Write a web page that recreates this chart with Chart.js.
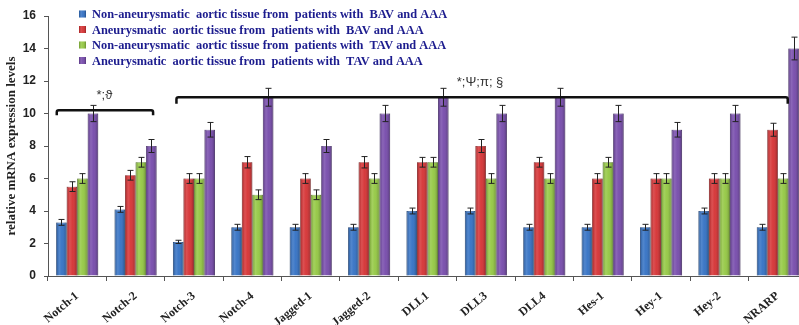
<!DOCTYPE html>
<html>
<head>
<meta charset="utf-8">
<script src="https://cdn.jsdelivr.net/npm/chart.js@4.4.1/dist/chart.umd.min.js"></script>
<style>
  html, body { margin: 0; padding: 0; background: #fff; }
  #wrap { width: 799px; height: 325px; overflow: hidden; position: relative; }
  canvas { display: block; }
</style>
</head>
<body>
<div id="wrap"><canvas id="chart" width="808" height="325"></canvas></div>
<script>
// categories (genes)
const genes = ['Notch-1', 'Notch-2', 'Notch-3', 'Notch-4', 'Jagged-1', 'Jagged-2', 'DLL1', 'DLL3', 'DLL4', 'Hes-1', 'Hey-1', 'Hey-2', 'NRARP'];

const seriesLabels = [
    'Non-aneurysmatic  aortic tissue from  patients with  BAV and AAA',
    'Aneurysmatic  aortic tissue from  patients with  BAV and AAA',
    'Non-aneurysmatic  aortic tissue from  patients with  TAV and AAA',
    'Aneurysmatic  aortic tissue from  patients with  TAV and AAA'
];

// series values
const bavNonAneurysmatic = [3.3, 4.1, 2.1, 3.0, 3.0, 3.0, 4.0, 4.0, 3.0, 3.0, 3.0, 4.0, 3.0];
const bavAneurysmatic    = [5.5, 6.2, 6.0, 7.0, 6.0, 7.0, 7.0, 8.0, 7.0, 6.0, 6.0, 6.0, 9.0];
const tavNonAneurysmatic = [6.0, 7.0, 6.0, 5.0, 5.0, 6.0, 7.0, 6.0, 6.0, 7.0, 6.0, 6.0, 6.0];
const tavAneurysmatic    = [10.0, 8.0, 9.0, 11.0, 8.0, 10.0, 11.0, 10.0, 11.0, 10.0, 9.0, 10.0, 14.0];

// error bar half-lengths
const bavNonAneurysmaticErr = [0.18, 0.18, 0.1, 0.18, 0.18, 0.18, 0.18, 0.18, 0.18, 0.18, 0.18, 0.18, 0.18];
const bavAneurysmaticErr    = [0.3, 0.3, 0.3, 0.35, 0.3, 0.35, 0.3, 0.4, 0.3, 0.3, 0.3, 0.3, 0.4];
const tavNonAneurysmaticErr = [0.3, 0.3, 0.3, 0.3, 0.3, 0.3, 0.3, 0.3, 0.3, 0.3, 0.3, 0.3, 0.3];
const tavAneurysmaticErr    = [0.5, 0.4, 0.45, 0.55, 0.4, 0.5, 0.55, 0.5, 0.55, 0.5, 0.45, 0.5, 0.7];

const yTicks = [0, 2, 4, 6, 8, 10, 12, 14, 16];

const colors  = ['#2c6cc2', '#d42a2c', '#90c63c', '#7144a8'];
const borders = ['#1d4a8c', '#9a1a1c', '#5f8a22', '#4a2a78'];

const errors = [bavNonAneurysmaticErr, bavAneurysmaticErr, tavNonAneurysmaticErr, tavAneurysmaticErr];

function shade(ctx, x0, x1) {
    const g = ctx.createLinearGradient(x0, 0, x1, 0);
    g.addColorStop(0, 'rgba(0,0,0,0.22)');
    g.addColorStop(0.3, 'rgba(255,255,255,0.18)');
    g.addColorStop(0.55, 'rgba(255,255,255,0.08)');
    g.addColorStop(1, 'rgba(0,0,0,0.28)');
    return g;
}

// gloss on bars + error bars
const barExtras = {
    id: 'barExtras',
    afterDatasetsDraw(chart) {
        const ctx = chart.ctx;
        const y = chart.scales.y;
        ctx.save();
        chart.data.datasets.forEach((ds, di) => {
            const meta = chart.getDatasetMeta(di);
            meta.data.forEach((el, i) => {
                const half = el.width / 2;
                ctx.fillStyle = shade(ctx, el.x - half, el.x + half);
                ctx.fillRect(el.x - half, el.y, el.width, el.base - el.y);
            });
        });
        ctx.strokeStyle = '#222';
        ctx.lineWidth = 1;
        chart.data.datasets.forEach((ds, di) => {
            const meta = chart.getDatasetMeta(di);
            meta.data.forEach((el, i) => {
                const v = ds.data[i];
                const e = errors[di][i];
                const top = y.getPixelForValue(v + e);
                const bot = y.getPixelForValue(v - e);
                const cx = Math.round(el.x) + 0.5;
                ctx.beginPath();
                ctx.moveTo(cx, top); ctx.lineTo(cx, bot);
                ctx.moveTo(cx - 3, top); ctx.lineTo(cx + 3, top);
                ctx.moveTo(cx - 3, bot); ctx.lineTo(cx + 3, bot);
                ctx.stroke();
            });
        });
        ctx.restore();
    }
};

// significance brackets
const brackets = {
    id: 'brackets',
    afterDatasetsDraw(chart) {
        const ctx = chart.ctx;
        const x = chart.scales.x, y = chart.scales.y;
        const cw = x.getPixelForValue(1) - x.getPixelForValue(0);
        function bracket(i0, f0, i1, f1, lineVal, endVal, label, labelX, labelVal) {
            const xa = x.getPixelForValue(i0) + f0 * cw;
            const xb = x.getPixelForValue(i1) + f1 * cw;
            const yl = y.getPixelForValue(lineVal);
            const ye = y.getPixelForValue(endVal);
            ctx.beginPath();
            ctx.moveTo(xa, ye);
            ctx.lineTo(xa, yl + 2);
            ctx.quadraticCurveTo(xa, yl, xa + 2, yl);
            ctx.lineTo(xb - 2, yl);
            ctx.quadraticCurveTo(xb, yl, xb, yl + 2);
            ctx.lineTo(xb, ye);
            ctx.stroke();
            ctx.fillText(label, labelX, y.getPixelForValue(labelVal));
        }
        ctx.save();
        ctx.strokeStyle = '#111';
        ctx.lineWidth = 2.5;
        ctx.fillStyle = '#333';
        ctx.font = '13px "Liberation Sans", Arial, sans-serif';
        ctx.textAlign = 'center';
        ctx.textBaseline = 'middle';
        const mid1 = (x.getPixelForValue(0) + x.getPixelForValue(1)) / 2 - 2;
        bracket(0, -0.35, 1, 0.3, 10.2, 9.9, '*;\u03D1', mid1, 11.1);
        const mid2 = x.getPixelForValue(7) - 0.1 * cw;
        bracket(2, -0.3, 12, 0.17, 11.0, 10.6, '*;\u03A8;\u03C0; \u00A7', mid2, 11.9);
        ctx.restore();
    }
};

// legend drawn inside plot area
const insideLegend = {
    id: 'insideLegend',
    afterDraw(chart) {
        const ctx = chart.ctx;
        const a = chart.chartArea;
        ctx.save();
        ctx.font = 'bold 12.4px "Liberation Serif", "Times New Roman", serif';
        ctx.textBaseline = 'middle';
        chart.data.datasets.forEach((ds, i) => {
            const yy = a.top - 2 + i * 15.5;
            const sx = a.left + 31;
            ctx.fillStyle = colors[i];
            ctx.fillRect(sx, yy - 3.5, 7, 7);
            ctx.fillStyle = shade(ctx, sx, sx + 7);
            ctx.fillRect(sx, yy - 3.5, 7, 7);
            ctx.fillStyle = '#1c1c8e';
            ctx.fillText(ds.label, a.left + 44, yy + 1);
        });
        ctx.restore();
    }
};

const datasets = [bavNonAneurysmatic, bavAneurysmatic, tavNonAneurysmatic, tavAneurysmatic].map((d, i) => ({
    label: seriesLabels[i],
    data: d,
    backgroundColor: colors[i],
    borderColor: borders[i],
    borderWidth: 0.8,
    barPercentage: 1.0,
    categoryPercentage: 0.72
}));

new Chart(document.getElementById('chart').getContext('2d'), {
    type: 'bar',
    data: { labels: genes, datasets: datasets },
    options: {
        responsive: false,
        animation: false,
        devicePixelRatio: 1,
        layout: { padding: { top: 16, right: 1, left: 0, bottom: 0 } },
        plugins: {
            legend: { display: false },
            tooltip: { enabled: false }
        },
        scales: {
            x: {
                grid: { display: true, drawOnChartArea: false, offset: true, tickLength: 5, color: '#555' },
                border: { color: '#555', width: 1 },
                ticks: {
                    color: '#222',
                    minRotation: 40,
                    maxRotation: 40,
                    padding: 8,
                    font: { family: '"Liberation Serif", "Times New Roman", serif', weight: 'bold', size: 12 }
                },
                afterFit(scale) { scale.height = 49; }
            },
            y: {
                min: 0,
                max: 16,
                afterBuildTicks(scale) { scale.ticks = yTicks.map(v => ({ value: v })); },
                grid: { display: true, drawOnChartArea: false, tickLength: 4, color: '#555' },
                border: { color: '#555', width: 1 },
                ticks: {
                    color: '#222',
                    padding: 8,
                    font: { family: '"Liberation Sans", Arial, sans-serif', weight: 'bold', size: 12 }
                },
                title: {
                    display: true,
                    text: 'relative mRNA expression levels',
                    color: '#222',
                    padding: { top: 4, bottom: 0 },
                    font: { family: '"Liberation Serif", "Times New Roman", serif', weight: 'bold', size: 13 }
                },
                afterFit(scale) { scale.width = 48; }
            }
        }
    },
    plugins: [barExtras, brackets, insideLegend]
});
</script>
</body>
</html>
